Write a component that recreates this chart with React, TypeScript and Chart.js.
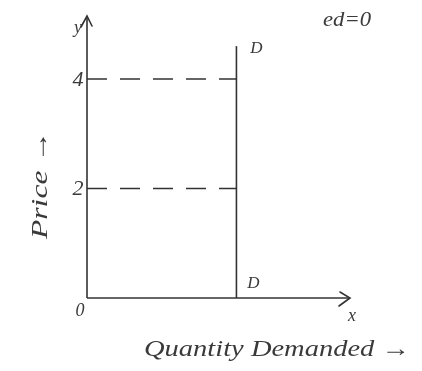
import React, { useEffect, useRef } from "react";
import { Chart, registerables } from "chart.js";

Chart.register(...registerables);

// Perfectly inelastic demand: the quantity demanded stays fixed whatever the price.
const demandQuantity = 5;
const demandTop = 4.6;
const priceLevels = [4, 2];
const priceLabels = ["4", "2"];
const xMax = 8.8;
const yMax = 5.15;

const INK = "#333333";
const FONT = "'Liberation Serif', 'DejaVu Serif', serif";

function drawFitted(ctx: CanvasRenderingContext2D, text: string, x: number, y: number, size: number, width?: number) {
  ctx.save();
  ctx.font = `italic ${size}px ${FONT}`;
  ctx.textAlign = "center";
  ctx.textBaseline = "middle";
  if (width) {
    const w = ctx.measureText(text).width;
    ctx.translate(x, y);
    ctx.scale(width / w, 1);
    ctx.fillText(text, 0, 0);
  } else {
    ctx.fillText(text, x, y);
  }
  ctx.restore();
}

const annotations = {
  id: "annotations",
  afterDatasetsDraw(chart: Chart) {
    const ctx = chart.ctx;
    const xs = chart.scales.x;
    const ys = chart.scales.y;
    const ox = xs.getPixelForValue(0);
    const oy = ys.getPixelForValue(0);
    const xEnd = xs.getPixelForValue(xMax);
    const yEnd = ys.getPixelForValue(yMax);
    const dx = xs.getPixelForValue(demandQuantity);
    const dTop = ys.getPixelForValue(demandTop);

    ctx.save();
    ctx.strokeStyle = INK;
    ctx.lineWidth = 1.6;
    ctx.lineCap = "round";
    // arrowheads
    ctx.beginPath();
    ctx.moveTo(ox - 6, yEnd + 11);
    ctx.lineTo(ox, yEnd);
    ctx.lineTo(ox + 5, yEnd + 10);
    ctx.moveTo(xEnd - 10, oy - 6);
    ctx.lineTo(xEnd, oy);
    ctx.lineTo(xEnd - 11, oy + 8);
    ctx.stroke();

    ctx.fillStyle = "#3a3a3a";
    drawFitted(ctx, "y", ox - 9, yEnd + 12, 18);
    priceLevels.forEach((p, i) => {
      drawFitted(ctx, priceLabels[i], ox - 9, ys.getPixelForValue(p) + 1, 22);
    });
    drawFitted(ctx, "0", ox - 7, oy + 13, 18);
    drawFitted(ctx, "x", xEnd + 2, oy + 18, 18);
    drawFitted(ctx, "D", dx + 20, dTop + 2, 17);
    drawFitted(ctx, "D", dx + 17, oy - 14, 17);
    drawFitted(ctx, "ed=0", 347, 20, 21, 48);
    drawFitted(ctx, "Quantity Demanded \u2192", 277, 350, 24, 266);

    ctx.save();
    ctx.translate(41, 185);
    ctx.rotate(-Math.PI / 2);
    drawFitted(ctx, "Price \u2192", 0, 0, 24, 108);
    ctx.restore();
    ctx.restore();
  },
};

export default function App() {
  const ref = useRef<HTMLCanvasElement | null>(null);

  useEffect(() => {
    if (!ref.current) return;
    const line = (data: { x: number; y: number }[], dash: number[] = []) => ({
      data,
      borderColor: INK,
      borderWidth: 1.6,
      borderDash: dash,
      pointRadius: 0,
      fill: false,
      tension: 0,
      clip: false as const,
    });
    const chart = new Chart(ref.current, {
      type: "line",
      data: {
        datasets: [
          line([{ x: 0, y: 0 }, { x: xMax, y: 0 }]),
          line([{ x: 0, y: 0 }, { x: 0, y: yMax }]),
          line([{ x: demandQuantity, y: 0 }, { x: demandQuantity, y: demandTop }]),
          ...priceLevels.map((p) => line([{ x: 0, y: p }, { x: demandQuantity, y: p }], [20, 13])),
        ],
      },
      options: {
        responsive: false,
        animation: false,
        layout: { padding: { left: 87, right: 72, top: 16, bottom: 73 } },
        plugins: { legend: { display: false }, tooltip: { enabled: false } },
        scales: {
          x: { type: "linear", min: 0, max: xMax, display: false },
          y: { type: "linear", min: 0, max: yMax, display: false },
        },
      },
      plugins: [annotations],
    });
    return () => chart.destroy();
  }, []);

  return (
    <div style={{ position: "absolute", left: 0, top: 0, width: 422, height: 371, background: "#fff" }}>
      <canvas ref={ref} width={422} height={371} />
    </div>
  );
}
